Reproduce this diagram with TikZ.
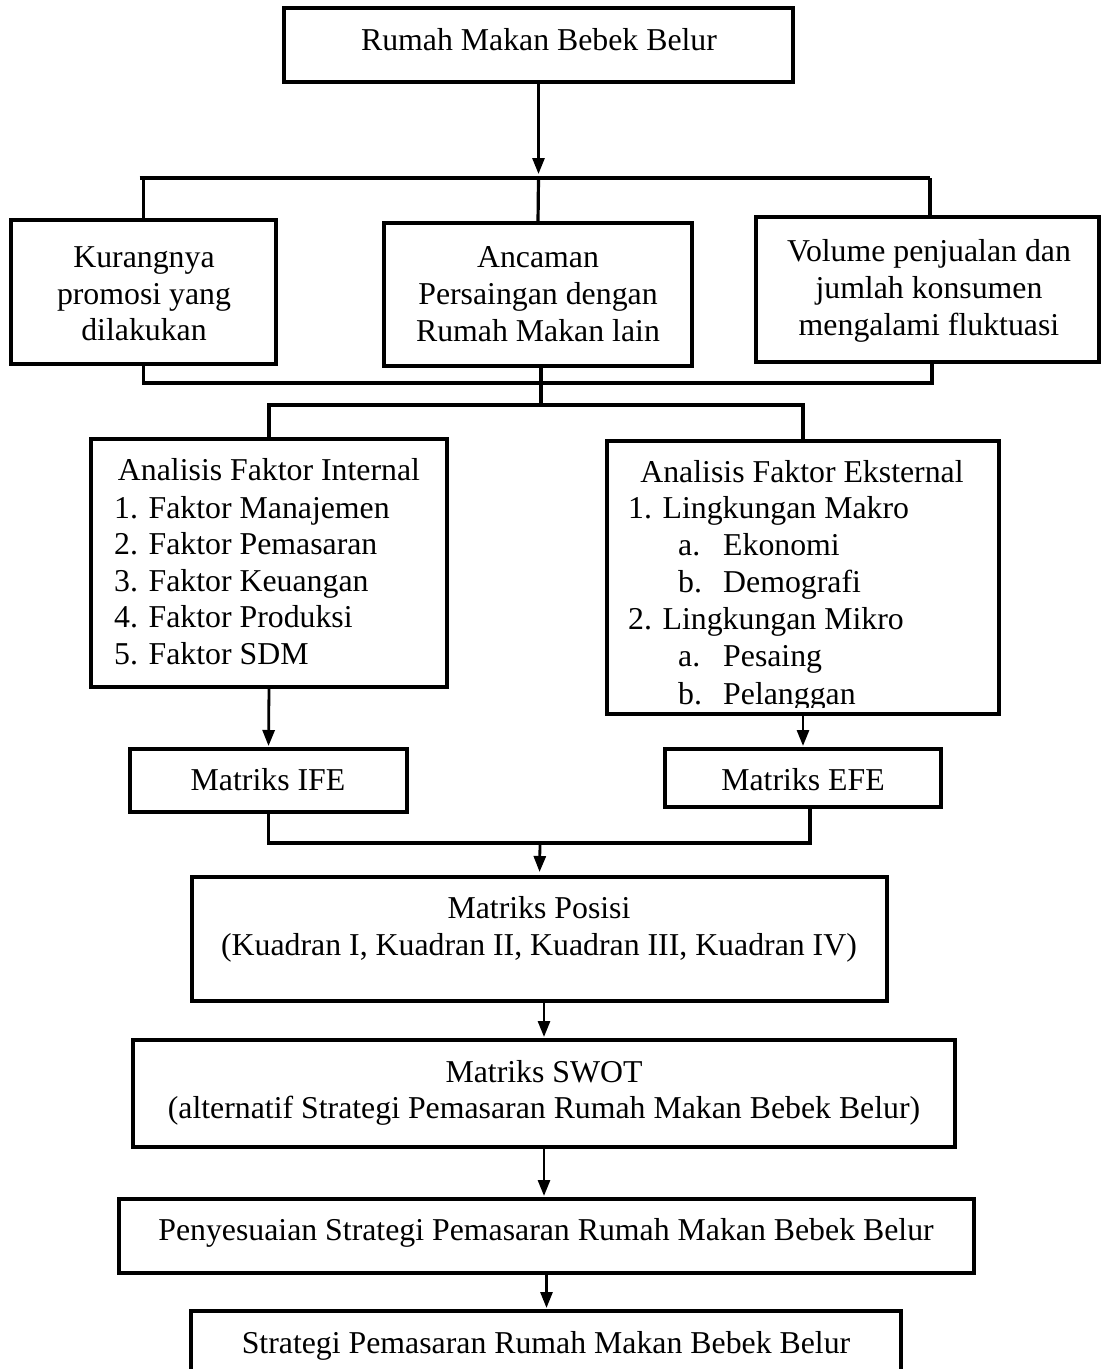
\documentclass[tikz,border=0pt]{standalone}
\usepackage{fontspec}
\setmainfont{Liberation Serif}
\usetikzlibrary{arrows.meta,calc}
\tikzset{
  box/.style={draw, line width=3.4pt, inner sep=0pt, outer sep=0pt},
  txt/.style={inner sep=0pt, align=center, font=\fontsize{31.8}{36.7}\selectfont},
  conn/.style={line width=3.2pt},
  arr/.style={line width=2.8pt, -{Triangle[length=16pt,width=12pt]}, shorten >=3pt},
}
\newcommand\mkbox[5]{\node[box, minimum width={(#4-#2)*1pt}, minimum height={(#5-#3)*1pt}] (#1) at ({(#2+#4)/2},{(#3+#5)/2}) {};}
\begin{document}
\begin{tikzpicture}[x=1pt,y=-1pt]
\useasboundingbox (0,0) rectangle (1101,1369);
% top
\mkbox{top}{284}{8}{793}{82}
\node[txt, anchor=base] (ttop) at (539,50) {Rumah Makan Bebek Belur};
% three problem boxes
\mkbox{kur}{11}{220}{276}{364}
\node[txt] (tkur) at (144,294) {Kurangnya\\promosi yang\\dilakukan};
\mkbox{anc}{384}{223}{692}{366}
\node[txt] (tanc) at (538,294) {Ancaman\\Persaingan dengan\\Rumah Makan lain};
\mkbox{vol}{756}{217}{1099}{362}
\node[txt] (tvol) at (929,291) {Volume penjualan dan\\jumlah konsumen\\mengalami fluktuasi};
% internal
\mkbox{int}{91}{439}{447}{687}
\node[txt, anchor=base] (tint) at (269,480) {Analisis Faktor Internal};
\foreach \t [count=\i] in {1. Faktor Manajemen, 2. Faktor Pemasaran, 3. Faktor Keuangan, 4. Faktor Produksi, 5. Faktor SDM}
  \node[txt, anchor=base west] (int\i) at (114,{518+36.6*(\i-1)}) {\t};
% external
\mkbox{ext}{607}{441}{999}{714}
\begin{scope}
\clip (609,443) rectangle (997,707);
\node[txt, anchor=base] (text) at (802,482) {Analisis Faktor Eksternal};
\node[txt, anchor=base west] (ext1) at (628,518) {1. Lingkungan Makro};
\node[txt, anchor=base west] (ext2) at (678,555) {\makebox[45pt][l]{a.}Ekonomi};
\node[txt, anchor=base west] (ext3) at (678,592) {\makebox[45pt][l]{b.}Demografi};
\node[txt, anchor=base west] (ext4) at (628,629) {2. Lingkungan Mikro};
\node[txt, anchor=base west] (ext5) at (678,666) {\makebox[45pt][l]{a.}Pesaing};
\node[txt, anchor=base west] (ext6) at (678,704) {\makebox[45pt][l]{b.}Pelanggan};
\end{scope}
% IFE / EFE
\mkbox{ife}{130}{749}{407}{812}
\node[txt, anchor=base] (tife) at (268,790) {Matriks IFE};
\mkbox{efe}{665}{749}{941}{807}
\node[txt, anchor=base] (tefe) at (803,790) {Matriks EFE};
% posisi
\mkbox{pos}{192}{877}{887}{1001}
\node[txt, anchor=base] (tpos1) at (539,918) {Matriks Posisi};
\node[txt, anchor=base] (tpos2) at (539,955) {(Kuadran I, Kuadran II, Kuadran III, Kuadran IV)};
% swot
\mkbox{swot}{133}{1040}{955}{1147}
\node[txt, anchor=base] (tswot1) at (544,1082) {Matriks SWOT};
\node[txt, anchor=base] (tswot2) at (544,1118) {(alternatif Strategi Pemasaran Rumah Makan Bebek Belur)};
% penyesuaian
\mkbox{peny}{119}{1199}{974}{1273}
\node[txt, anchor=base] (tpeny) at (546,1240) {Penyesuaian Strategi Pemasaran Rumah Makan Bebek Belur};
% strategi
\mkbox{strat}{191}{1311}{901}{1385}
\node[txt, anchor=base] (tstrat) at (546,1353) {Strategi Pemasaran Rumah Makan Bebek Belur};
% connectors
\coordinate (b1) at (538.5,178);
\draw[arr, shorten >=4pt] (top.south) -- (b1);
\draw[conn] ([xshift=-4pt]kur.north |- b1) -- ([xshift=2.5pt]vol.north |- b1);
\draw[conn] (kur.north) -- (kur.north |- b1);
\draw[conn] ([xshift=2.5pt]vol.north) -- ([xshift=2.5pt]vol.north |- b1);
\draw[conn] (b1) -- (anc.north);
\coordinate (b2) at (541,383);
\coordinate (b3) at (541,405);
\draw[conn] (kur.south) |- (b2) -| ([xshift=4.5pt]vol.south);
\draw[conn] ([xshift=3pt]anc.south) -- (b3);
\draw[conn] (int.north) |- (b3) -| (ext.north);
\draw[arr] (int.south) -- (ife.north);
\draw[arr] (ext.south) -- (efe.north);
\coordinate (b4) at (540,843);
\draw[conn] (ife.south) |- (b4) -| ([xshift=7pt]efe.south);
\draw[arr, shorten >=5pt] (b4) -- (pos.north);
\draw[arr] (pos.south -| swot.north) -- (swot.north);
\draw[arr] (swot.south) -- (swot.south |- peny.north);
\draw[arr] (peny.south) -- (peny.south |- strat.north);
\end{tikzpicture}
\end{document}
